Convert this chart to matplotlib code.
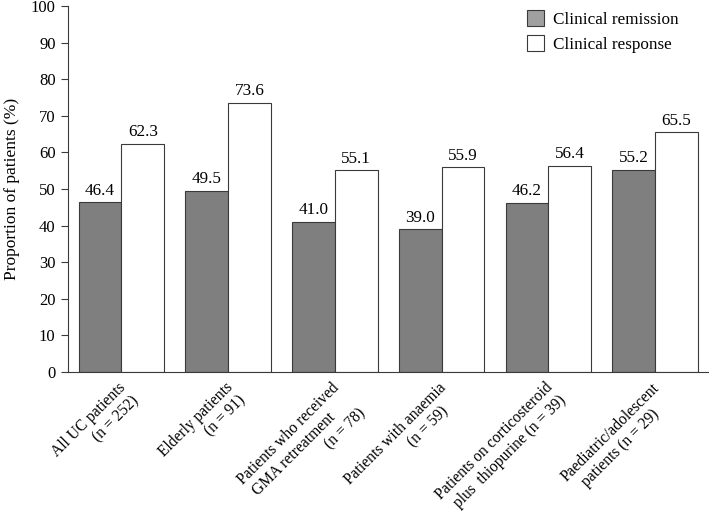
import numpy as np
import matplotlib.pyplot as plt
import matplotlib.transforms as mtransforms
from matplotlib.patches import Patch

plt.rcParams['font.family'] = 'Liberation Serif'

# trailing spaces mimic the uneven line ends of the original labels
groups = ['All UC patients\n(n = 252)',
          'Elderly patients\n(n = 91)',
          'Patients who received\nGMA retreatment      \n(n = 78)',
          'Patients with anaemia\n(n = 59)    ',
          'Patients on corticosteroid\nplus  thiopurine (n = 39)',
          'Paediatric/adolescent\npatients (n = 29)     ']
remission = [46.4, 49.5, 41.0, 39.0, 46.2, 55.2]
response = [62.3, 73.6, 55.1, 55.9, 56.4, 65.5]

fig = plt.figure(figsize=(7.09, 5.18), dpi=100)
ax = fig.add_axes([0.096, 0.282, 0.903, 0.706])

x = np.arange(len(groups))
w = 0.4
b1 = ax.bar(x - w/2, remission, w, color='#7f7f7f', edgecolor='#3a3a3a', linewidth=0.8)
b2 = ax.bar(x + w/2, response, w, color='white', edgecolor='#3a3a3a', linewidth=0.8)

for bars, vals in [(b1, remission), (b2, response)]:
    for bar, v in zip(bars, vals):
        ax.text(bar.get_x() + bar.get_width()/2, v + 1.0, '%.1f' % v,
                ha='center', va='bottom', fontsize=12.3)

ax.set_xlim(-0.5, 5.5)
ax.set_ylim(0, 100)
ax.set_yticks(range(0, 101, 10))
ax.set_xticks(x)
ax.set_xticklabels(groups, rotation=45, ha='right', va='top', rotation_mode='anchor',
                   multialignment='right', fontsize=11.2)
ax.tick_params(axis='x', length=0, pad=5.6)
ax.tick_params(axis='y', labelsize=12, length=5, color='#3a3a3a', pad=4)
shift = mtransforms.ScaledTranslation(-3.5/100, 0, fig.dpi_scale_trans)
for lab in ax.get_xticklabels():
    lab.set_transform(lab.get_transform() + shift)
for s in ['top', 'right']:
    ax.spines[s].set_visible(False)
ax.spines['left'].set_color('#3a3a3a')
ax.spines['bottom'].set_color('#3a3a3a')
ax.set_ylabel('Proportion of patients (%)', fontsize=12.5, labelpad=8)

handles = [Patch(facecolor='#a0a0a0', edgecolor='#3a3a3a', linewidth=0.8),
           Patch(facecolor='white', edgecolor='#3a3a3a', linewidth=0.8)]
ax.legend(handles, ['Clinical remission', 'Clinical response'], loc='upper left',
          bbox_to_anchor=(0.701, 1.017), frameon=False, fontsize=12.3,
          handlelength=1.0, handleheight=1.0, handletextpad=0.5, labelspacing=0.45,
          borderaxespad=0.2)

fig.savefig('out.png', dpi=100)
